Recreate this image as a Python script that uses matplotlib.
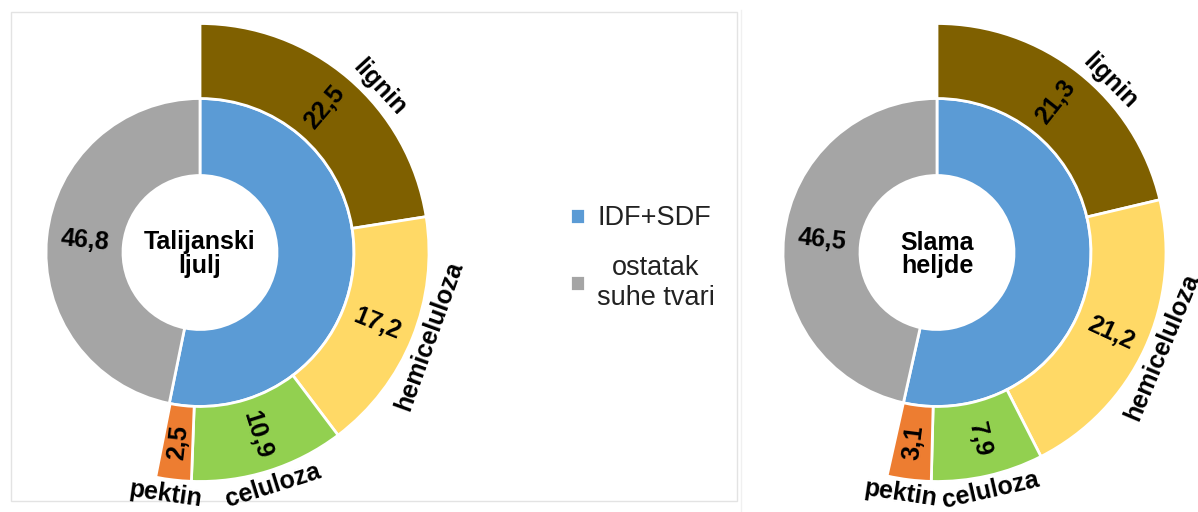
import matplotlib
matplotlib.use("Agg")
import numpy as np
import matplotlib.pyplot as plt
from matplotlib.patches import Rectangle

plt.rcParams['font.family'] = ['Liberation Sans', 'DejaVu Sans']

# data (% of dry matter)
parts = ["lignin", "hemiceluloza", "celuloza", "pektin"]
part_colors = ["#7F6000", "#FFD966", "#92D050", "#ED7D31"]
inner_labels = ["IDF+SDF", "ostatak\nsuhe tvari"]
inner_colors = ["#5B9BD5", "#A5A5A5"]

titles = ["Talijanski\nljulj", "Slama\nheljde"]
fiber_left = [22.5, 17.2, 10.9, 2.5]
rest_left = 46.8
fiber_right = [21.3, 21.2, 7.9, 3.1]
rest_right = 46.5

# small angular nudges for the outside names (like excel places them)
name_nudge = [-7, 2, 0, -1.5]

W, H = 1198, 512
fig = plt.figure(figsize=(W / 100, H / 100), dpi=100)
ax = fig.add_axes([0, 0, 1, 1])

r_hole = 77
r_in = 154
r_out = 229
fs = 18


def fmt(v):
    return f"{v:.1f}".replace(".", ",")


def upright(a):
    a = (a + 180) % 360 - 180
    if a > 90:
        a -= 180
    if a < -90:
        a += 180
    return a


def sunburst(cx, cy, fiber, rest, title):
    inner = [100 - rest, rest]
    w_in, _ = ax.pie(inner, radius=r_in, center=(cx, cy), startangle=90,
                     counterclock=False, colors=inner_colors,
                     wedgeprops=dict(width=r_in - r_hole, edgecolor="white", linewidth=2))
    w_out, _ = ax.pie([v / 100 for v in fiber], radius=r_out, center=(cx, cy),
                      startangle=90, counterclock=False, normalize=False,
                      colors=part_colors,
                      wedgeprops=dict(width=r_out - r_in, edgecolor="white", linewidth=2))
    # values inside outer ring, names outside
    for w, v, name, dn in zip(w_out, fiber, parts, name_nudge):
        th = (w.theta1 + w.theta2) / 2
        t = np.deg2rad(th)
        rm = (r_in + r_out) / 2
        ax.text(cx + rm * np.cos(t), cy + rm * np.sin(t), fmt(v),
                rotation=upright(th), rotation_mode="anchor",
                ha="center", va="center", fontsize=fs, fontweight="bold")
        thn = th + dn
        t = np.deg2rad(thn)
        rl = r_out + 15
        ax.text(cx + rl * np.cos(t), cy + rl * np.sin(t), name,
                rotation=upright(thn - 90), rotation_mode="anchor",
                ha="center", va="center", fontsize=fs, fontweight="bold")
    # value of the rest
    w = w_in[1]
    th = (w.theta1 + w.theta2) / 2
    t = np.deg2rad(th)
    rm = (r_hole + r_in) / 2
    ax.text(cx + rm * np.cos(t), cy + rm * np.sin(t), fmt(rest),
            rotation=upright(th), rotation_mode="anchor",
            ha="center", va="center", fontsize=fs, fontweight="bold")
    ax.text(cx, cy - 2, title, ha="center", va="center", fontsize=fs,
            fontweight="bold", linespacing=1.0)
    return w_in


handles = sunburst(200, 259.5, fiber_left, rest_left, titles[0])
sunburst(937, 259.5, fiber_right, rest_right, titles[1])

# faint chart frames
ax.add_patch(Rectangle((11, 11), 726, 489, fill=False, edgecolor="#E3E3E3", linewidth=1))
ax.plot([741, 741], [0, 502], color="#F0F0F0", linewidth=1)

leg = ax.legend(handles, inner_labels, loc="center left",
                bbox_to_anchor=(570 / W, 254 / H), bbox_transform=fig.transFigure,
                frameon=False, fontsize=19.5, handlelength=0.55, handleheight=0.55,
                handletextpad=0.45, labelspacing=0.85, borderpad=0, borderaxespad=0)
for txt in leg.get_texts():
    txt.set_multialignment("center")
    txt.set_color("#222222")

ax.set_xlim(0, W)
ax.set_ylim(0, H)
ax.set_aspect("equal")
ax.axis("off")

fig.savefig("out.png", dpi=100)
